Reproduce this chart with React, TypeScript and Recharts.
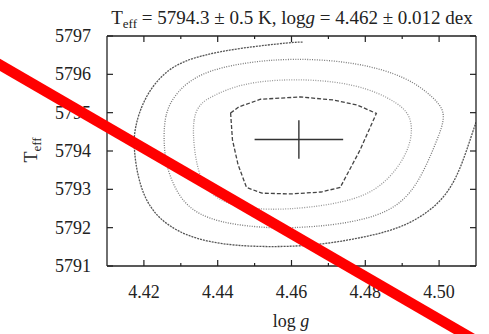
import React from "react";
import { ComposedChart, Line, Scatter, ErrorBar, XAxis, YAxis } from "recharts";

// tick positions and labels
const loggTicks = [4.42, 4.43, 4.44, 4.45, 4.46, 4.47, 4.48, 4.49, 4.5];
const loggLabels = ["4.42", "4.44", "4.46", "4.48", "4.50"];
const teffTicks = [5791, 5792, 5793, 5794, 5795, 5796, 5797];

// best fit with its 1-sigma errors
const bestFit = [{ logg: 4.462, teff: 5794.3, dLogg: 0.012, dTeff: 0.5 }];

// chi2 contours as [logg, Teff]
const contourInner: [number, number][] = [
  [4.4435, 5794.99], [4.4457, 5795.15], [4.4516, 5795.35], [4.4624, 5795.41],
  [4.4714, 5795.33], [4.4778, 5795.2], [4.483, 5794.98], [4.4786, 5794.03],
  [4.4732, 5793.05], [4.468, 5792.93], [4.4597, 5792.88], [4.452, 5792.9],
  [4.4478, 5793.05], [4.4455, 5793.65], [4.444, 5794.29],
];
const contourSecond: [number, number][] = [
  [4.4335, 5794.03], [4.4332, 5794.89], [4.4354, 5795.25], [4.4381, 5795.41],
  [4.4462, 5795.77], [4.4605, 5795.9], [4.4778, 5795.77], [4.4895, 5795.25],
  [4.493, 5794.81], [4.4922, 5794.03], [4.4859, 5793.17], [4.4778, 5792.72],
  [4.4643, 5792.51], [4.4535, 5792.46], [4.4462, 5792.54], [4.44, 5792.72],
  [4.4354, 5793.17],
];
const contourThird: [number, number][] = [
  [4.4254, 5794.03], [4.4254, 5794.99], [4.4292, 5795.59], [4.4354, 5796.04],
  [4.4462, 5796.3], [4.4605, 5796.43], [4.4778, 5796.32], [4.4914, 5795.93],
  [4.4984, 5795.41], [4.5022, 5794.99], [4.4995, 5794.29], [4.4941, 5793.06],
  [4.4868, 5792.38], [4.4732, 5792.07], [4.4597, 5791.99], [4.4535, 5791.99],
  [4.44, 5792.12], [4.4308, 5792.54], [4.4265, 5793.43],
];
const contourOuter: [number, number][] = [
  [4.463, 5796.84], [4.4605, 5796.84], [4.4462, 5796.69], [4.4354, 5796.5],
  [4.4265, 5796.19], [4.42, 5795.41], [4.4173, 5794.55], [4.4173, 5794.03],
  [4.4184, 5793.24], [4.4219, 5792.38], [4.4308, 5791.76], [4.4443, 5791.5],
  [4.4624, 5791.5], [4.4732, 5791.63], [4.4868, 5791.89], [4.4957, 5792.28],
  [4.5038, 5792.98], [4.5084, 5794.29], [4.51, 5794.75],
];

const INK = "#222";
const FONT = "'Liberation Serif', 'Times New Roman', serif";

const toPoints = (c: [number, number][]) => c.map(([logg, teff]) => ({ logg, teff }));

function BottomTick({ x, y, payload }: any) {
  const label = Number(payload.value).toFixed(2);
  const major = loggLabels.includes(label);
  return (
    <g>
      <line x1={x} x2={x} y1={y} y2={y - (major ? 6 : 3)} stroke={INK} strokeWidth={1.2} />
      {major && (
        <text x={x} y={y + 32} textAnchor="middle" fontSize={18} fontFamily={FONT} fill={INK}>
          {label}
        </text>
      )}
    </g>
  );
}

function TopTick({ x, y, payload }: any) {
  const major = loggLabels.includes(Number(payload.value).toFixed(2));
  return <line x1={x} x2={x} y1={y} y2={y + (major ? 6 : 3)} stroke={INK} strokeWidth={1.2} />;
}

function LeftTick({ x, y, payload }: any) {
  return (
    <g>
      <line x1={x} x2={x + 6} y1={y} y2={y} stroke={INK} strokeWidth={1.2} />
      <text x={x - 16} y={y} dy="0.34em" textAnchor="end" fontSize={18} fontFamily={FONT} fill={INK}>
        {payload.value}
      </text>
    </g>
  );
}

function RightTick({ x, y }: any) {
  return <line x1={x} x2={x - 6} y1={y} y2={y} stroke={INK} strokeWidth={1.2} />;
}

const axisLine = { stroke: INK, strokeWidth: 1.3 };

export default function App() {
  return (
    <div style={{ position: "absolute", left: 0, top: 0, width: 489, height: 334, background: "#fff" }}>
      <ComposedChart width={489} height={334} margin={{ top: 35, right: 12, bottom: 67, left: 106 }}>
        <XAxis
          xAxisId="b"
          dataKey="logg"
          type="number"
          domain={[4.41, 4.51]}
          ticks={loggTicks}
          interval={0}
          allowDataOverflow
          height={1}
          tickSize={0}
          tickMargin={0}
          tickLine={false}
          axisLine={axisLine}
          tick={<BottomTick />}
        />
        <XAxis
          xAxisId="t"
          orientation="top"
          dataKey="logg"
          type="number"
          domain={[4.41, 4.51]}
          ticks={loggTicks}
          interval={0}
          allowDataOverflow
          height={1}
          tickSize={0}
          tickMargin={0}
          tickLine={false}
          axisLine={axisLine}
          tick={<TopTick />}
        />
        <YAxis
          yAxisId="l"
          type="number"
          domain={[5791, 5797]}
          ticks={teffTicks}
          interval={0}
          allowDataOverflow
          width={1}
          tickSize={0}
          tickMargin={0}
          tickLine={false}
          axisLine={axisLine}
          tick={<LeftTick />}
        />
        <YAxis
          yAxisId="r"
          orientation="right"
          type="number"
          domain={[5791, 5797]}
          ticks={teffTicks}
          interval={0}
          allowDataOverflow
          width={1}
          tickSize={0}
          tickMargin={0}
          tickLine={false}
          axisLine={axisLine}
          tick={<RightTick />}
        />
        <Line xAxisId="b" yAxisId="l" data={toPoints(contourOuter)} dataKey="teff" type="basis"
          stroke="#555" strokeWidth={1.3} strokeDasharray="2 1" dot={false} isAnimationActive={false} />
        <Line xAxisId="b" yAxisId="l" data={toPoints(contourThird)} dataKey="teff" type="basisClosed"
          stroke="#7a7a7a" strokeWidth={1.3} strokeDasharray="1 1.4" dot={false} isAnimationActive={false} />
        <Line xAxisId="b" yAxisId="l" data={toPoints(contourSecond)} dataKey="teff" type="basisClosed"
          stroke="#999" strokeWidth={1.3} strokeDasharray="1 1.4" dot={false} isAnimationActive={false} />
        <Line xAxisId="b" yAxisId="l" data={toPoints(contourInner)} dataKey="teff" type="linearClosed"
          stroke="#444" strokeWidth={1.3} strokeDasharray="4 2" dot={false} isAnimationActive={false} />
        <Scatter xAxisId="b" yAxisId="l" data={bestFit} dataKey="teff" shape={() => <g />} isAnimationActive={false}>
          <ErrorBar dataKey="dLogg" direction="x" width={0} stroke="#333" strokeWidth={1.4} />
          <ErrorBar dataKey="dTeff" direction="y" width={0} stroke="#333" strokeWidth={1.4} />
        </Scatter>
      </ComposedChart>
      <svg width={489} height={334} style={{ position: "absolute", left: 0, top: 0, pointerEvents: "none" }}>
        <text x={292} y={24} textAnchor="middle" fontSize={19} fontFamily={FONT} fill={INK}>
          T<tspan dy={4} fontSize={13}>eff</tspan>
          <tspan dy={-4}> = 5794.3 ± 0.5 K, log</tspan>
          <tspan fontStyle="italic">g</tspan>
          <tspan> = 4.462 ± 0.012 dex</tspan>
        </text>
        <text x={291} y={327} textAnchor="middle" fontSize={18} fontFamily={FONT} fill={INK}>
          log <tspan fontStyle="italic">g</tspan>
        </text>
        <text x={37} y={150} transform="rotate(-90, 37, 150)" textAnchor="middle" fontSize={18} fontFamily={FONT} fill={INK}>
          T<tspan dy={4} fontSize={13}>eff</tspan>
        </text>
        <line x1={-5} y1={62} x2={480} y2={343} stroke="#f00" strokeWidth={10.5} />
      </svg>
    </div>
  );
}
